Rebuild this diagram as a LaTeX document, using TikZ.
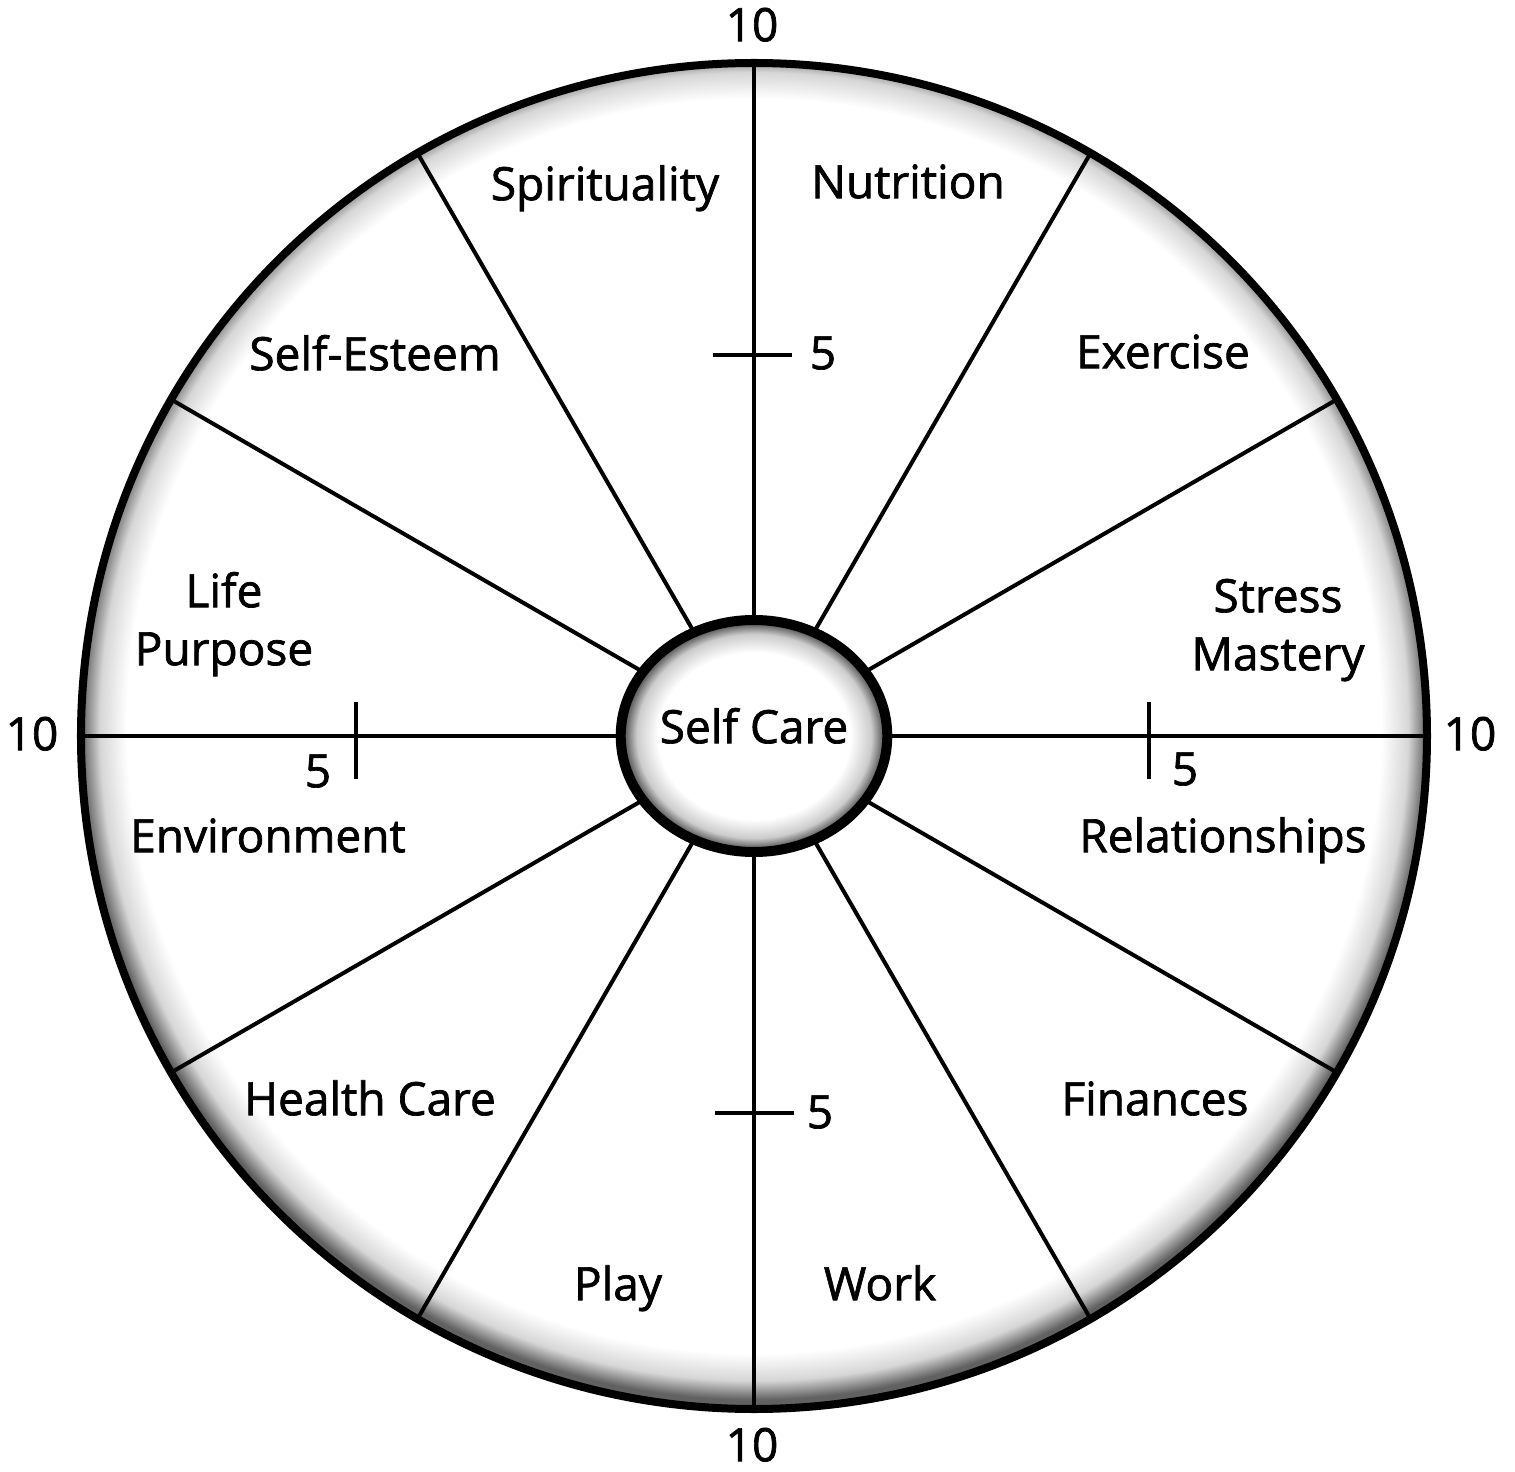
\documentclass[tikz,border=0pt]{standalone}
\usepackage{fontspec}
\setmainfont{Open Sans}
\newfontfamily\wheelFamily{Open Sans}[FakeBold=1.5]
\usetikzlibrary{shapes.geometric}
\newcommand{\wheelRadius}{673}
\newcommand{\labelFont}{\wheelFamily\fontsize{23}{29}\selectfont}
\pgfdeclareradialshading{rimshade}{\pgfpoint{0bp}{0.7bp}}{color(0bp)=(white); color(23.3bp)=(white); color(24.3bp)=(black!16); color(25bp)=(black!62); color(50bp)=(black!62)}
\pgfdeclareradialshading{hubshade}{\pgfpoint{0bp}{0bp}}{color(0bp)=(white); color(18bp)=(white); color(22bp)=(black!20); color(25bp)=(black!80); color(50bp)=(black!80)}

\begin{document}
\begin{tikzpicture}[x=0.5pt, y=0.5pt]
  \tikzset{
    area label/.style={font=\labelFont, align=center, text height=0.72em, text depth=0pt, inner sep=0pt},
    scale label/.style={area label},
    spoke/.style={line width=2pt},
    tick/.style={line width=2pt}
  }
  \useasboundingbox[fill=white] (-754,-736) rectangle (761,736);
  \shade[shading=rimshade] (0,0) circle (\wheelRadius);
  \draw[line width=4pt] (0,0) circle (\wheelRadius);
  \node[ellipse, draw, line width=5pt, shading=hubshade, minimum width=131pt, minimum height=116pt,
        inner sep=0pt, outer sep=0pt, area label] (hub) at (0,0) {Self Care};
  \foreach \a in {0,30,...,330}
    \draw[spoke] (hub.\a) -- (\a:\wheelRadius);
  \draw[tick] (-41,381) -- (38,381);
  \draw[tick] (-39,-377) -- (40,-377);
  \draw[tick] (395,-43) -- (395,34);
  \draw[tick] (-398,-43) -- (-398,34);
  \node[scale label] (five-n) at (69,374) {5};
  \node[scale label] (five-s) at (66,-385) {5};
  \node[scale label] (five-e) at (431,-42) {5};
  \node[scale label] (five-w) at (-436,-44) {5};
  \node[scale label] (ten-n) at (-2,702) {10};
  \node[scale label] (ten-s) at (-2,-718) {10};
  \node[scale label] (ten-e) at (716,-7) {10};
  \node[scale label] (ten-w) at (-722,-7) {10};
  \node[area label] (spirituality) at (-149,543) {Spirituality};
  \node[area label] (nutrition) at (154,545) {Nutrition};
  \node[area label] (exercise) at (409,375) {Exercise};
  \node[area label] (self-esteem) at (-379,373) {Self-Esteem};
  \node[area label] (stress) at (524,73) {Stress\\Mastery};
  \node[area label] (purpose) at (-530,78) {Life\\Purpose};
  \node[area label] (environment) at (-486,-109) {Environment};
  \node[area label] (relationships) at (469,-109) {Relationships};
  \node[area label] (health) at (-384,-372) {Health Care};
  \node[area label] (finances) at (401,-372) {Finances};
  \node[area label] (play) at (-136,-557) {Play};
  \node[area label] (work) at (126,-557) {Work};
\end{tikzpicture}
\end{document}
